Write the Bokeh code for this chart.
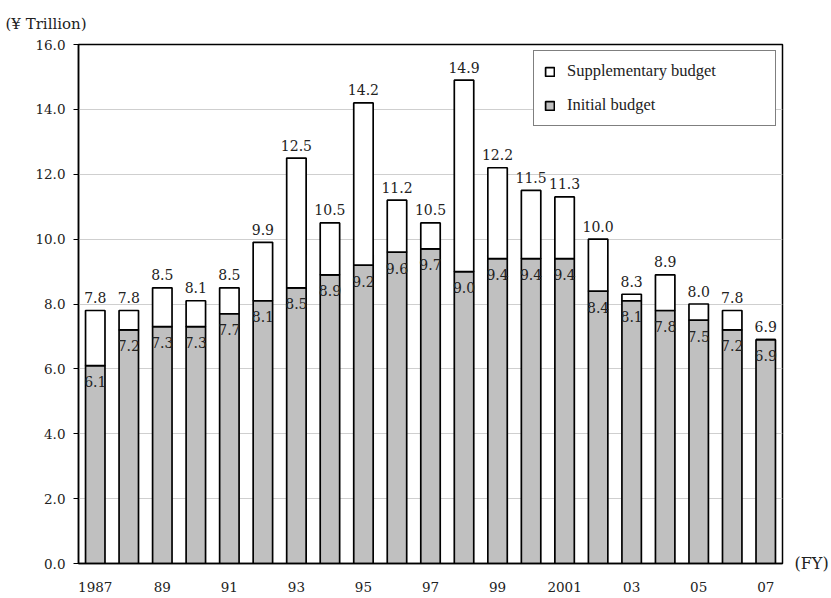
from bokeh.plotting import figure
from bokeh.models import (ColumnDataSource, Range1d, FixedTicker, Legend, LegendItem,
                          LabelSet, NumeralTickFormatter, LinearAxis, Title)
from bokeh.core.properties import value
from bokeh.embed import file_html
from bokeh.resources import INLINE

# Fiscal years and budgets (¥ trillion)
years = [1987, 1988, 1989, 1990, 1991, 1992, 1993, 1994, 1995, 1996, 1997,
         1998, 1999, 2000, 2001, 2002, 2003, 2004, 2005, 2006, 2007]
initial = [6.1, 7.2, 7.3, 7.3, 7.7, 8.1, 8.5, 8.9, 9.2, 9.6, 9.7,
           9.0, 9.4, 9.4, 9.4, 8.4, 8.1, 7.8, 7.5, 7.2, 6.9]
total = [7.8, 7.8, 8.5, 8.1, 8.5, 9.9, 12.5, 10.5, 14.2, 11.2, 10.5,
         14.9, 12.2, 11.5, 11.3, 10.0, 8.3, 8.9, 8.0, 7.8, 6.9]
tick_years = [1987, 1989, 1991, 1993, 1995, 1997, 1999, 2001, 2003, 2005, 2007]
tick_labels = ["1987", "89", "91", "93", "95", "97", "99", "2001", "03", "05", "07"]

SERIF = "DejaVu Serif"
LEGEND_FONT = "'Liberation Serif'"
GRAY = "#c0c0c0"
GRID = "#cfcfcf"
INK = "#222222"

xs = list(range(len(years)))
src = ColumnDataSource(dict(
    x=xs, year=years, initial=initial, total=total,
    init_lbl=[f"{v:.1f}" for v in initial],
    tot_lbl=[f"{v:.1f}" for v in total],
))

p = figure(width=831, height=598, output_backend="svg", toolbar_location=None,
           x_range=Range1d(-0.5, len(years) - 0.5), y_range=Range1d(0, 16),
           min_border_left=78, min_border_right=47, min_border_top=43, min_border_bottom=35)
p.outline_line_color = "black"
p.outline_line_width = 1.5
p.background_fill_color = "white"
p.border_fill_color = "white"

init_r = p.vbar(x="x", bottom=0, top="initial", width=0.58, source=src,
                fill_color=GRAY, line_color="black", line_width=1.7)
supp_r = p.vbar(x="x", bottom="initial", top="total", width=0.58, source=src,
                fill_color="white", line_color="black", line_width=1.7)

# value labels: total above each bar, initial budget just inside the grey part
p.add_layout(LabelSet(x="x", y="total", text="tot_lbl", source=src,
                      text_align="center", text_baseline="middle", y_offset=13,
                      text_font=value(SERIF), text_font_size="14px", text_color=INK))
p.add_layout(LabelSet(x="x", y="initial", text="init_lbl", source=src,
                      text_align="center", text_baseline="middle", y_offset=-16,
                      text_font=value(SERIF), text_font_size="14px", text_color=INK))

# axes
p.xgrid.visible = False
p.ygrid.grid_line_color = GRID
p.ygrid.grid_line_width = 1
p.yaxis.ticker = FixedTicker(ticks=[0, 2, 4, 6, 8, 10, 12, 14, 16])
p.yaxis.formatter = NumeralTickFormatter(format="0.0")
p.yaxis.major_tick_in = 0
p.yaxis.major_tick_out = 5
p.yaxis.minor_tick_out = 0
p.yaxis.minor_tick_in = 0
p.yaxis.major_label_standoff = 8
p.yaxis.axis_line_color = "black"
p.yaxis.axis_line_width = 1.5

p.xaxis.ticker = FixedTicker(ticks=[years.index(y) for y in tick_years])
p.xaxis.major_label_overrides = {years.index(y): t for y, t in zip(tick_years, tick_labels)}
p.xaxis.major_tick_in = 0
p.xaxis.major_tick_out = 0
p.xaxis.minor_tick_out = 0
p.xaxis.minor_tick_in = 0
p.xaxis.major_label_standoff = 18
p.xaxis.axis_line_color = "black"
p.xaxis.axis_line_width = 1.5

for ax in (p.xaxis[0], p.yaxis[0]):
    ax.major_label_text_font = SERIF
    ax.major_label_text_font_size = "13.5px"
    ax.major_label_text_color = INK

# fiscal-year caption on the right, level with the baseline
fy_axis = LinearAxis(ticker=FixedTicker(ticks=[0]), major_label_overrides={0: "(FY)"},
                     axis_line_color=None, major_tick_out=0, major_tick_in=0,
                     minor_tick_out=0, minor_tick_in=0, major_label_standoff=12,
                     major_label_text_font=SERIF, major_label_text_font_size="16px",
                     major_label_text_color=INK)
p.add_layout(fy_axis, "right")

# unit caption
p.add_layout(Title(text="(¥ Trillion)", align="left", offset=-73,
                   text_font=SERIF, text_font_size="15px", text_font_style="normal",
                   text_color=INK, standoff=24), "above")

legend = Legend(items=[LegendItem(label="Supplementary budget", renderers=[supp_r]),
                       LegendItem(label="Initial budget", renderers=[init_r])],
                location="top_right", margin=6, padding=10,
                glyph_width=11, glyph_height=11, label_standoff=12,
                label_width=198, label_height=17, spacing=14,
                label_text_font=LEGEND_FONT, label_text_font_size="16.5px",
                label_text_color=INK,
                border_line_color="black", border_line_width=1,
                background_fill_color="white", background_fill_alpha=1)
p.add_layout(legend)

open("out.html", "w").write(file_html(p, INLINE))
